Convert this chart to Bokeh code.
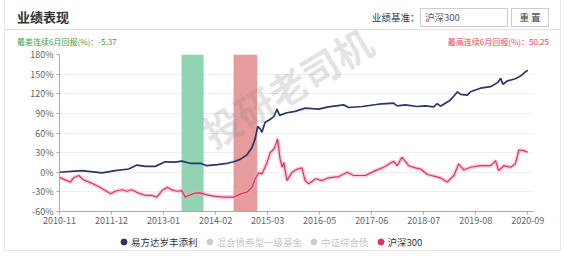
from bokeh.plotting import figure
from bokeh.models import Range1d, FixedTicker, Legend, LegendItem, Div, PrintfTickFormatter
from bokeh.layouts import column
from bokeh.embed import file_html
from bokeh.resources import INLINE

# ---- data ----
x_labels = ["2010-11", "2011-12", "2013-01", "2014-02", "2015-03",
            "2016-05", "2017-06", "2018-07", "2019-08", "2020-09"]
y_ticks = [-60, -30, 0, 30, 60, 90, 120, 150, 180]

fund_name = "易方达岁丰添利"
fund_x = [0.00, 0.43, 0.82, 1.07, 1.33, 1.49, 1.65, 1.84, 2.03, 2.22, 2.35, 2.51, 2.71, 2.83,
          3.03, 3.22, 3.35, 3.48, 3.60, 3.70, 3.76, 3.81, 3.86, 3.89, 3.95, 4.05, 4.12, 4.18,
          4.23, 4.37, 4.53, 4.72, 4.98, 5.17, 5.46, 5.56, 5.82, 6.13, 6.42, 6.49, 6.65, 6.87,
          7.03, 7.19, 7.26, 7.32, 7.51, 7.65, 7.71, 7.84, 7.90, 8.09, 8.29, 8.42, 8.48, 8.52,
          8.61, 8.76, 8.86, 8.96, 9.00]
fund_y = [0, 2.5, -1, 2.5, 5, 11, 9, 9, 16, 15.5, 17, 13.7, 13.7, 10,
          11.7, 13.7, 16, 20, 26.5, 38, 51, 70, 66, 61, 76, 81, 85, 96.5,
          87, 91, 93, 98, 96.5, 100, 103, 99, 100.5, 104, 105.7, 101.5, 103, 100.5,
          101.5, 100, 105, 101, 110, 123, 119, 118, 123, 128.5, 131, 137, 143.6, 134.6,
          139.6, 143, 147, 153.8, 156]

bench_name = "沪深300"
bench_x = [0.00, 0.11, 0.21, 0.27, 0.37, 0.46, 0.56, 0.62, 0.75, 0.88, 0.98, 1.07, 1.20, 1.30,
           1.39, 1.52, 1.65, 1.78, 1.87, 1.97, 2.07, 2.16, 2.26, 2.35, 2.42, 2.51, 2.61, 2.71,
           2.83, 2.96, 3.15, 3.35, 3.48, 3.60, 3.70, 3.76, 3.83, 3.89, 3.99, 4.05, 4.12, 4.16,
           4.19, 4.24, 4.28, 4.31, 4.37, 4.47, 4.57, 4.66, 4.72, 4.79, 4.92, 5.05, 5.17, 5.37,
           5.53, 5.65, 5.88, 6.07, 6.23, 6.42, 6.49, 6.58, 6.71, 6.84, 6.94, 7.07, 7.23, 7.32,
           7.45, 7.58, 7.67, 7.77, 7.90, 8.09, 8.29, 8.38, 8.44, 8.54, 8.67, 8.76, 8.83, 8.92,
           9.00]
bench_y = [-7.6, -11.6, -15, -8.5, -5, -11.6, -15, -16.7, -21.8, -27.9, -33, -29, -26.8, -29,
           -26.8, -32, -35.5, -35.5, -38, -28, -23, -27, -29, -28, -38, -34.5, -32, -31.5,
           -34.5, -36.5, -38, -38, -33, -30.5, -23, -10, -1, -2.5, 15, 30, 35.5, 43,
           51, 20, 7.6, 15, -12.7, 0, 5, 6.6, -12.7, -17.7, -10, -12.7, -8.5, -6.6,
           0, -5, -5, 2.5, 7.6, 16.8, 10, 23, 10, 6.6, 5, -3.5, -6.6, -8.5,
           -15, -5, 12.7, 3.5, 7.6, 10, 10, 17.8, 2.5, 10, 7.6, 12.7, 34, 33,
           30.5]

hidden_names = ["混合债券型一级基金", "中证综合债"]

worst_band = [2.345, 2.77]   # 最差连续6月
best_band = [3.345, 3.80]    # 最高连续6月
worst_text = "最差连续6月回报(%)：-5.37"
best_text = "最高连续6月回报(%)：50.25"
watermark = "投研老司机"

FONT = "Noto Sans CJK SC"
NAVY = "#2a3568"
RED = "#e0325c"

# ---- header (with card border and watermark overlay) ----
header_html = f"""
<div style="position:relative;width:565px;height:46px;font-family:'{FONT}';overflow:visible;">
  <div style="position:absolute;left:4px;top:0px;width:557px;height:251px;border:1px solid #e8e8e8;border-top:none;box-sizing:border-box;pointer-events:none;"></div>
  <div style="position:absolute;left:17px;top:7px;font-size:13px;font-weight:bold;color:#333;line-height:20px;">业绩表现</div>
  <div style="position:absolute;left:5px;top:29px;width:555px;height:1px;background:#e2e2e2;"></div>
  <div style="position:absolute;left:372px;top:10px;font-size:9.5px;color:#333;line-height:15px;">业绩基准：</div>
  <div style="position:absolute;left:420px;top:8px;width:88px;height:19px;border:1px solid #ccc;box-sizing:border-box;font-size:9.5px;line-height:17px;padding-left:4px;color:#555;">沪深300</div>
  <div style="position:absolute;left:511px;top:8px;width:38px;height:19px;border:1px solid #ccc;box-sizing:border-box;font-size:9.5px;line-height:17px;text-align:center;color:#333;">重 置</div>
  <div style="position:absolute;left:17px;top:36px;font-size:8px;color:#3f9a3c;line-height:12px;white-space:nowrap;">{worst_text}</div>
  <div style="position:absolute;right:16px;top:36px;font-size:8px;color:#e8424f;line-height:12px;white-space:nowrap;">{best_text}</div>
  <div style="position:absolute;left:287px;top:87px;transform:translate(-50%,-50%) rotate(-31deg);font-size:38px;font-weight:bold;color:rgba(130,130,130,0.22);white-space:nowrap;line-height:40px;pointer-events:none;">{watermark}</div>
</div>
"""
header = Div(text=header_html, width=565, height=46, margin=(0, 0, 0, 0),
             styles={"overflow": "visible", "padding": "0px", "margin": "0px", "z-index": "10"})

# ---- main figure ----
p = figure(width=565, height=183, x_range=Range1d(0, 9.11), y_range=Range1d(-60, 180),
           output_backend="svg", toolbar_location=None, margin=(0, 0, 0, 0),
           min_border_left=59, min_border_right=32, min_border_top=8, min_border_bottom=18)
p.outline_line_color = None
p.border_fill_color = None
p.xgrid.visible = False
p.ygrid.grid_line_color = "#eeeeee"
p.ygrid.ticker = FixedTicker(ticks=y_ticks)

p.yaxis.ticker = FixedTicker(ticks=y_ticks)
p.yaxis.formatter = PrintfTickFormatter(format="%d%%")
p.xaxis.ticker = FixedTicker(ticks=list(range(len(x_labels))))
p.xaxis.major_label_overrides = {i: lab for i, lab in enumerate(x_labels)}

for ax in (p.xaxis[0], p.yaxis[0]):
    ax.axis_line_color = "#aaaaaa"
    ax.major_tick_line_color = "#aaaaaa"
    ax.minor_tick_line_color = None
    ax.major_label_text_color = "#666666"
    ax.major_label_text_font = FONT
    ax.major_label_text_font_size = "9px"
    ax.major_tick_out = 3
    ax.major_tick_in = 0
p.yaxis.major_label_standoff = 3
p.xaxis.major_label_standoff = 2

# shaded periods
p.quad(left=[worst_band[0], best_band[0]], right=[worst_band[1], best_band[1]],
       bottom=y_ticks[0], top=y_ticks[-1], fill_color=["#93d3b5", "#e69c9c"],
       fill_alpha=1.0, line_color=None)

# benchmark with glow
p.line(bench_x, bench_y, line_color="#f5a9bc", line_width=4, line_alpha=0.55)
p.line(bench_x, bench_y, line_color=RED, line_width=1.2)
# fund
p.line(fund_x, fund_y, line_color=NAVY, line_width=1.7)

# ---- legend strip ----
lg = figure(width=565, height=28, x_range=Range1d(0, 1), y_range=Range1d(0, 1),
            output_backend="svg", toolbar_location=None, margin=(0, 0, 0, 0),
            min_border=0, x_axis_location=None, y_axis_location=None)
lg.outline_line_color = None
lg.border_fill_color = None
lg.background_fill_color = None
lg.grid.visible = False

off = [-5]  # dummy point outside the visible range, only used for the legend glyph
r_fund = lg.scatter(off, off, marker="circle", fill_color=NAVY, line_color=NAVY)
r_h1 = lg.scatter(off, off, marker="circle", fill_color="#555555", line_color="#555555", visible=False)
r_h2 = lg.scatter(off, off, marker="circle", fill_color="#555555", line_color="#555555", visible=False)
r_bench = lg.scatter(off, off, marker="circle", fill_color=RED, line_color=RED)

legend = Legend(items=[LegendItem(label=fund_name, renderers=[r_fund]),
                       LegendItem(label=hidden_names[0], renderers=[r_h1]),
                       LegendItem(label=hidden_names[1], renderers=[r_h2]),
                       LegendItem(label=bench_name, renderers=[r_bench])],
                orientation="horizontal", location=(57, 8), padding=5, margin=0,
                spacing=4, glyph_width=15, glyph_height=15, label_standoff=0,
                border_line_color=None, background_fill_alpha=0,
                label_text_font=FONT, label_text_font_size="9.5px",
                label_text_color="#333333", click_policy="hide",
                inactive_fill_color="white", inactive_fill_alpha=0.7)
lg.add_layout(legend, "center")

layout = column(header, p, lg, spacing=0, margin=(0, 0, 0, 0))
open("out.html", "w").write(file_html(layout, INLINE))
